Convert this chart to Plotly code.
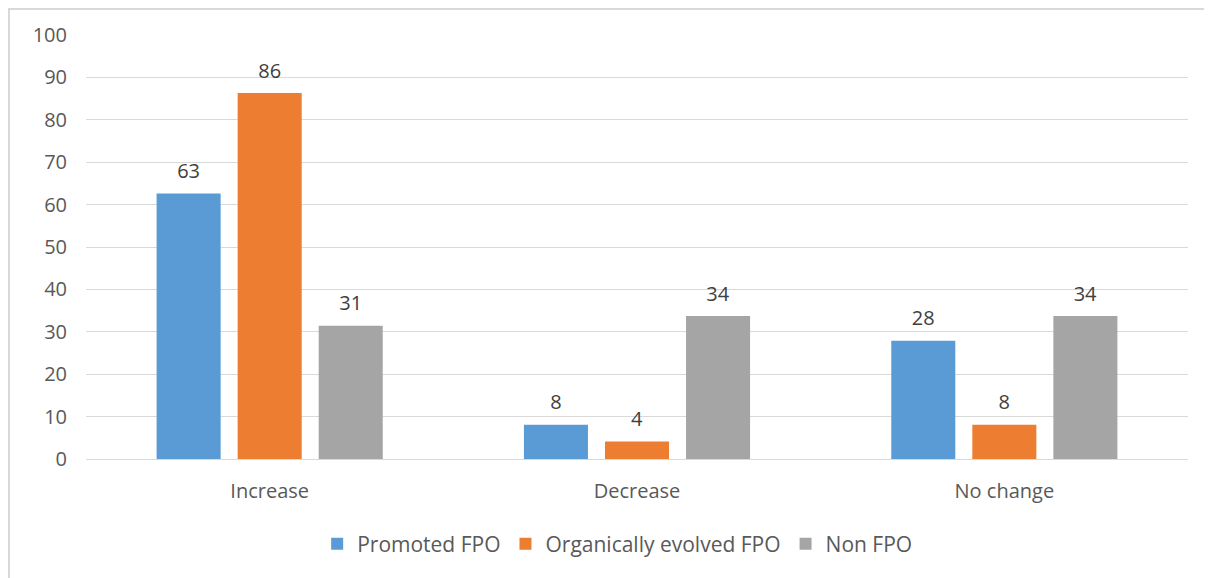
import plotly.graph_objects as go

categories = ["Increase", "Decrease", "No change"]
series_names = ["Promoted FPO", "Organically evolved FPO", "Non FPO"]
promoted = [62.6, 8.1, 27.9]
organic = [86.3, 4.1, 8.1]
non_fpo = [31.4, 33.7, 33.7]
colors = ["#5B9BD5", "#ED7D31", "#A5A5A5"]
y_ticks = [0, 10, 20, 30, 40, 50, 60, 70, 80, 90, 100]

font_family = "Open Sans, Liberation Sans, sans-serif"
text_color = "#595959"

fig = go.Figure()
for name, vals, col in zip(series_names, [promoted, organic, non_fpo], colors):
    fig.add_trace(go.Bar(
        x=categories, y=vals, name=name,
        marker=dict(color=col, line=dict(width=0)),
        text=[f"<span style='font-size:20px'>{round(v):d}</span><br> " for v in vals],
        textposition="outside",
        textfont=dict(size=8, color="#404040", family=font_family),
        cliponaxis=False,
    ))

# page is offset by the 8px body margin
W, H = 1204, 570
ml, mr, mt, mb = 78, 24, 27, 119
pw, ph = W - ml - mr, H - mt - mb

fig.update_layout(
    width=W, height=H,
    margin=dict(l=ml, r=mr, t=mt, b=mb),
    paper_bgcolor="white", plot_bgcolor="white",
    barmode="group", bargap=0.338, bargroupgap=0.21,
    font=dict(family=font_family, size=20, color=text_color),
    showlegend=True,
    legend=dict(orientation="h", x=0.482, xanchor="center", y=(451 - 536) / ph, yanchor="middle",
                font=dict(size=21, color=text_color), itemwidth=30, traceorder="normal"),
    xaxis=dict(showline=True, linecolor="#D9D9D9", linewidth=1, ticks="outside", ticklen=14,
               tickcolor="rgba(0,0,0,0)", tickfont=dict(size=20, color=text_color)),
    yaxis=dict(range=[0, 100], tickvals=y_ticks, showgrid=True, gridcolor="#D9D9D9",
               gridwidth=1, zeroline=False, showline=False, ticks="outside", ticklen=14,
               tickcolor="rgba(0,0,0,0)", tickfont=dict(size=20, color=text_color)),
    shapes=[dict(type="rect", xref="paper", yref="paper",
                 x0=(1 - ml) / pw, x1=1.1, y0=-0.5, y1=(451 - 1) / ph,
                 line=dict(color="#D9D9D9", width=2), layer="below")],
)

fig.write_html("out.html")
